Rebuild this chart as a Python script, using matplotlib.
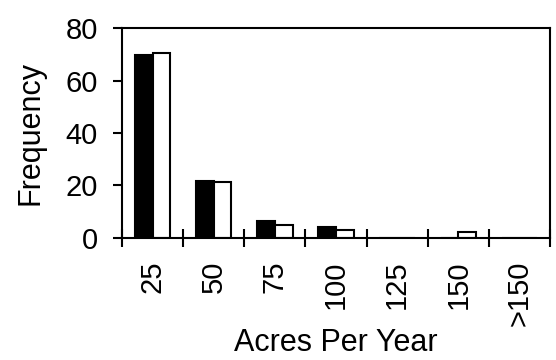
import numpy as np
import matplotlib
matplotlib.use("Agg")
import matplotlib.pyplot as plt

# dane
kategorie = ["25", "50", "75", "100", "125", "150", ">150"]
seria_czarna = [69.9, 21.7, 6.4, 4.1, 0, 0, 0]
seria_biala = [70.4, 21.3, 5.0, 3.0, 0, 2.2, 0]

plt.rcParams['font.family'] = ['Liberation Sans', 'DejaVu Sans']

fig = plt.figure(figsize=(5.56, 3.60), dpi=100)
ax = fig.add_axes([0.2194, 0.339, 0.7698, 0.583])

x = np.arange(len(kategorie))
szer = 0.29
ax.bar(x - szer / 2, seria_czarna, szer, color='black', edgecolor='black', linewidth=1.5)
ax.bar(x + szer / 2, seria_biala, szer, color='white', edgecolor='black', linewidth=1.5)

ax.set_xlim(-0.5, len(kategorie) - 0.5)
ax.set_ylim(0, 80)
ax.set_yticks(np.arange(0, 81, 20))

ax.set_xticks(x)
ax.set_xticklabels(kategorie, rotation=90, fontsize=21)
ax.set_xticks(np.arange(-0.5, len(kategorie), 1.0), minor=True)
ax.tick_params(axis='x', which='major', length=0, pad=16)
ax.tick_params(axis='x', which='minor', direction='inout', length=13, width=1.5)
ax.tick_params(axis='y', direction='out', length=6.5, width=1.5, labelsize=21, pad=11)

for s in ax.spines.values():
    s.set_linewidth(1.5)

ax.set_xlabel("Acres Per Year", fontsize=22, labelpad=2)
ax.set_ylabel("Frequency", fontsize=22, labelpad=14)

plt.savefig("out.png", dpi=100)
